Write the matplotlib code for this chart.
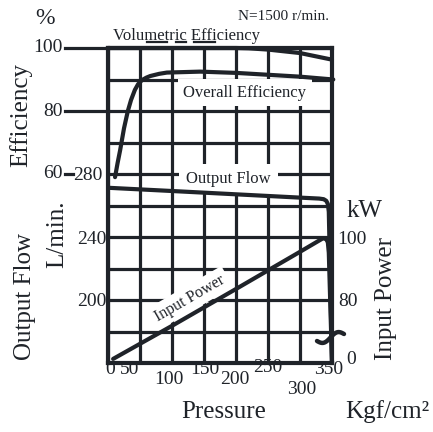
import numpy as np
import matplotlib
matplotlib.use("Agg")
import matplotlib.pyplot as plt
from matplotlib.lines import Line2D
from matplotlib.transforms import offset_copy, blended_transform_factory

plt.rcParams['font.family'] = ['Liberation Serif', 'DejaVu Serif']

INK = '#1f2329'
W, H = 433, 432

# ---- axis ticks -------------------------------------------------------
pressure_ticks = [0, 50, 100, 150, 200, 250, 300, 350]
pressure_labels = ['0', '50', '100', '150', '200', '250', '300', '350']

eff_ticks = [100, 80, 60]
eff_labels = ['100', '80', '60']
flow_ticks = [280, 240, 200]
flow_labels = ['280', '240', '200']
power_ticks = [100, 80, 60]
power_labels = ['100', '80', '0']

# ---- curves (pressure in Kgf/cm2) -------------------------------------
vol_pressure = [0, 100, 200, 220, 250, 300, 350]
vol_eff = [100, 100, 100, 99.9, 99.5, 98.4, 96.3]

ovr_pressure = [11, 15, 19, 25, 31, 36, 42, 47, 53, 60, 66, 80, 92, 144, 200, 250, 300, 352]
ovr_eff = [59, 63.5, 67.6, 74.5, 80, 83.5, 86.7, 88.5, 89.8, 90.6, 91.1, 91.8, 92.2,
           92.5, 92.1, 91.5, 90.9, 90.0]

flow_pressure = [3, 100, 200, 300, 330, 337, 341, 343.5, 345, 350]
flow_lpm = [271.2, 269.2, 267.1, 265.0, 264.4, 264.0, 263.0, 261.0, 256, 160]

power_pressure = [8, 100, 200, 300, 336, 341, 343.5, 345, 350]
power_kw = [61.3, 71.8, 83.5, 95.3, 99.6, 99.3, 98.3, 95, 60]


def px(x, y):
    """Pixel position (from top-left) to figure fraction."""
    return x / W, 1 - y / H


fig = plt.figure(figsize=(W / 100, H / 100), dpi=100)
x0, y1 = px(108, 363)
x1, y0 = px(332, 48)
ax = fig.add_axes([x0, y1, x1 - x0, y0 - y1])
axf = ax.twinx()
axp = ax.twinx()

ax.set_xlim(0, 350)
ax.set_ylim(0, 100)
axf.set_ylim(160, 360)
axp.set_ylim(60, 160)

# grid
ax.set_xticks(pressure_ticks)
ax.set_yticks(np.arange(0, 101, 10))
ax.grid(True, color=INK, lw=2.3)
ax.set_axisbelow(True)
for a in (ax, axf, axp):
    a.tick_params(length=0, labelbottom=False, labelleft=False,
                  labelright=False, labeltop=False)
for s in ax.spines.values():
    s.set_linewidth(3)
    s.set_color(INK)
for a in (axf, axp):
    a.set_yticks([])
    for s in a.spines.values():
        s.set_visible(False)

# tick labels
left_tr = blended_transform_factory(ax.transAxes, ax.transData)
for v, lab in zip(eff_ticks, eff_labels):
    ax.text(0, v, lab, fontsize=14, color=INK, ha='right', va='center',
            transform=offset_copy(left_tr, fig=fig, x=-45, y=0, units='dots'))
for v in eff_ticks[:2]:
    ax.add_line(Line2D([-43 / 224, 0], [v, v], color=INK, lw=2.3,
                       transform=left_tr, clip_on=False))
ax.add_line(Line2D([-43 / 224, -35 / 224], [eff_ticks[2]] * 2, color=INK, lw=2.3,
                   transform=left_tr, clip_on=False))

flow_tr = blended_transform_factory(axf.transAxes, axf.transData)
for v, lab, dx in zip(flow_ticks, flow_labels, [-6, -2, -2]):
    axf.text(0, v, lab, fontsize=14, color=INK, ha='right', va='center',
             transform=offset_copy(flow_tr, fig=fig, x=dx, y=-2, units='dots'))

power_tr = blended_transform_factory(axp.transAxes, axp.transData)
for v, lab, dx, dy in zip(power_ticks, power_labels, [5, 6, 14], [-2, -2, 4]):
    axp.text(1, v, lab, fontsize=14, color=INK, ha='left', va='center',
             transform=offset_copy(power_tr, fig=fig, x=dx, y=dy, units='dots'))

bottom_tr = blended_transform_factory(ax.transData, ax.transAxes)
label_drop = [6, 7, 17, 7, 17, 5, 27, 7]
label_dx = [2, -10, -3, 1, -1, 0, 2, -3]
for v, lab, dy, dx in zip(pressure_ticks, pressure_labels, label_drop, label_dx):
    ax.text(v, 0, lab, fontsize=14, color=INK, ha='center', va='center',
            transform=offset_copy(bottom_tr, fig=fig, x=dx, y=-dy, units='dots'))

# curves
ax.plot(vol_pressure, vol_eff, color=INK, lw=3, clip_on=False, zorder=4,
        solid_capstyle='round')
ax.plot(ovr_pressure, ovr_eff, color=INK, lw=3, clip_on=False, zorder=4,
        solid_capstyle='round', solid_joinstyle='round')
axf.plot(flow_pressure, flow_lpm, color=INK, lw=3, clip_on=False, zorder=4,
         solid_capstyle='round', solid_joinstyle='round')
axp.plot(power_pressure, power_kw, color=INK, lw=3, clip_on=False, zorder=4,
         solid_capstyle='round', solid_joinstyle='round')

# curve names
box = dict(facecolor='white', edgecolor='none', pad=4)
ax.text(123, 100, 'Volumetric Efficiency', fontsize=12, color=INK, ha='center',
        va='center', transform=offset_copy(ax.transData, fig=fig, x=0, y=12, units='dots'))
ax.text(214, 85.8, 'Overall Efficiency', fontsize=12, color=INK, ha='center',
        va='center', bbox=box, zorder=3)
axf.text(188, 276.8, 'Output Flow', fontsize=12, color=INK, ha='center',
         va='center', bbox=dict(facecolor='white', edgecolor='none', pad=5), zorder=3)
axp.text(128, 80.6, 'Input Power', fontsize=11.5, color=INK, ha='center',
         va='center', rotation=30, rotation_mode='anchor',
         bbox=dict(facecolor='white', edgecolor='none', pad=3), zorder=3)

# marks under the efficiency title
for xa, xb in [(147, 167), (176, 186), (194, 215)]:
    (ax_, ay_), (bx_, by_) = px(xa, 42), px(xb, 42)
    fig.add_artist(Line2D([ax_, bx_], [ay_, by_], color=INK, lw=1.6,
                          transform=fig.transFigure))

# axis break on the power scale
t = np.linspace(0, 1, 40)
bx = 317 + 27 * t
by = 341 - 7 * t + 3.5 * np.sin(2 * np.pi * t)
fx, fy = px(bx, by)
fig.add_artist(Line2D(fx, fy, color=INK, lw=3.2, transform=fig.transFigure,
                      solid_capstyle='round'))

# axis titles and units
def ftext(x, y, s, **kw):
    fx_, fy_ = px(x, y)
    fig.text(fx_, fy_, s, color=INK, ha=kw.pop('ha', 'center'),
             va=kw.pop('va', 'center'), **kw)

ftext(45, 18, '%', fontsize=17)
ftext(284, 17, 'N=1500 r/min.', fontsize=11)
ftext(21, 115, 'Efficiency', fontsize=18, rotation=90)
ftext(25, 296, 'Output Flow', fontsize=18, rotation=90)
ftext(57, 234, 'L/min.', fontsize=18, rotation=90)
ftext(365, 211, 'kW', fontsize=18)
ftext(386, 298, 'Input Power', fontsize=18, rotation=90)
ftext(224, 412, 'Pressure', fontsize=18)
ftext(345, 412, 'Kgf/cm²', fontsize=18, ha='left')

fig.savefig('out.png', dpi=100, facecolor='white')
